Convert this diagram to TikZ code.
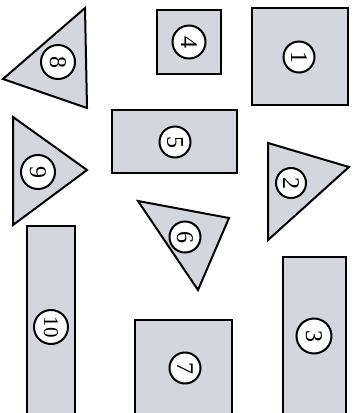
\documentclass[tikz,border=0pt]{standalone}
\usepackage{fontspec}
\setmainfont{Liberation Serif}
\definecolor{shapefill}{RGB}{212,214,222}
\begin{document}
\begin{tikzpicture}[x=1pt,y=-1pt,
  piece/.style={draw=black,fill=shapefill,line width=2pt,line join=miter},
  tag/.style={circle,draw=black,fill=white,line width=2pt,inner sep=0pt,
    minimum size=31pt,rotate=-90,font=\fontsize{24}{24}\selectfont}]
\useasboundingbox (0,0) rectangle (356,413);
% 1
\draw[piece] (252,8) rectangle (348,105);
\node[tag] (n1) at (299,57) {1};
% 4
\draw[piece] (157,10) rectangle (221,74);
\node[tag,minimum size=33pt] (n4) at (189,42) {4};
% 8
\draw[piece] (85,8) -- (3,79) -- (87,108) -- cycle;
\node[tag,minimum size=34pt] (n8) at (58,62) {8};
% 5
\draw[piece] (112,110) rectangle (237,173);
\node[tag] (n5) at (175,142) {5};
% 9
\draw[piece] (13,117) -- (87,170) -- (13,225) -- cycle;
\node[tag,minimum size=34pt] (n9) at (38,172) {9};
% 2
\draw[piece] (268,143) -- (349,167) -- (268,240) -- cycle;
\node[tag,minimum size=30pt] (n2) at (291,183) {2};
% 6
\draw[piece] (138,201) -- (229,218) -- (198,290) -- cycle;
\node[tag] (n6) at (185,237) {6};
% 10
\draw[piece] (27,226) rectangle (75,416);
\node[tag,minimum size=34pt,font=\fontsize{21}{21}\selectfont] (n10) at (51,327) {10};
% 7
\draw[piece] (135,320) rectangle (232,416);
\node[tag] (n7) at (185,368) {7};
% 3
\draw[piece] (283,257) rectangle (346,416);
\node[tag,minimum size=35pt] (n3) at (314,336) {3};
\end{tikzpicture}
\end{document}
